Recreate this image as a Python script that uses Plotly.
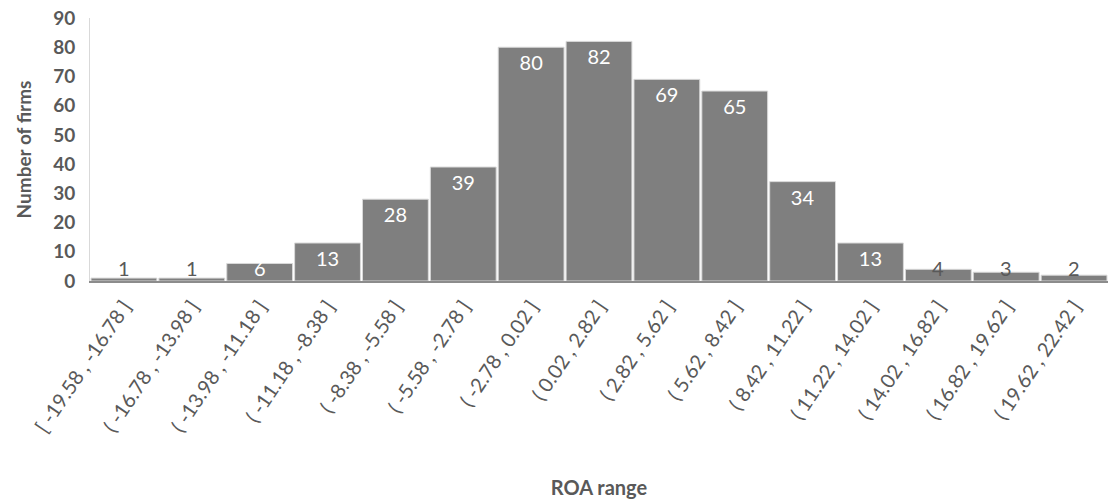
import plotly.graph_objects as go

ranges = [
    "[ -19.58 , -16.78 ]", "( -16.78 , -13.98 ]", "( -13.98 , -11.18 ]",
    "( -11.18 , -8.38 ]", "( -8.38 , -5.58 ]", "( -5.58 , -2.78 ]",
    "( -2.78 , 0.02 ]", "( 0.02 , 2.82 ]", "( 2.82 , 5.62 ]",
    "( 5.62 , 8.42 ]", "( 8.42 , 11.22 ]", "( 11.22 , 14.02 ]",
    "( 14.02 , 16.82 ]", "( 16.82 , 19.62 ]", "( 19.62 , 22.42 ]",
]
firms = [1, 1, 6, 13, 28, 39, 80, 82, 69, 65, 34, 13, 4, 3, 2]

FONT = "Lato"
GREY = "#595959"
LABEL_SIZE = 20

# tall bars carry their label inside the top; short ones get a label
# resting on the baseline instead
tall = [v >= 10 for v in firms]

fig = go.Figure(
    go.Bar(
        x=ranges,
        y=firms,
        text=[str(v) if t else "" for v, t in zip(firms, tall)],
        textposition="inside",
        insidetextanchor="end",
        textangle=0,
        insidetextfont=dict(family=FONT, size=LABEL_SIZE, color="white"),
        marker=dict(color="#7f7f7f", line=dict(color="#d9d9d9", width=1)),
        cliponaxis=False,
    )
)

for cat, v, t in zip(ranges, firms, tall):
    if t:
        continue
    fig.add_annotation(
        x=cat,
        y=0,
        yanchor="bottom",
        text=str(v),
        showarrow=False,
        yshift=-1,
        font=dict(family=FONT, size=LABEL_SIZE, color="white" if v >= 5 else GREY),
    )

fig.update_layout(
    width=1111,
    height=499,
    margin=dict(l=90, r=3, t=18, b=218),
    paper_bgcolor="white",
    plot_bgcolor="white",
    bargap=0.03,
    showlegend=False,
    uniformtext=dict(minsize=LABEL_SIZE, mode="show"),
    font=dict(family=FONT, color=GREY),
)

fig.update_xaxes(
    tickangle=-56,
    tickfont=dict(family=FONT, size=20, color=GREY),
    ticklabelstandoff=4,
    showline=True,
    linecolor="#8c8c8c",
    linewidth=2,
    showgrid=False,
    ticks="",
    title=dict(text="<b>ROA range</b>", font=dict(family=FONT, size=20, color=GREY), standoff=46),
)

fig.update_yaxes(
    range=[0, 90],
    dtick=10,
    tickfont=dict(family=FONT, size=19, color=GREY),
    tickprefix="<b>",
    ticksuffix="</b>",
    ticklabelstandoff=10,
    showline=True,
    linecolor="#d9d9d9",
    linewidth=1,
    showgrid=False,
    zeroline=False,
    ticks="",
    title=dict(text="<b>Number of firms</b>", font=dict(family=FONT, size=19, color=GREY), standoff=16),
)

fig.write_html("out.html")
